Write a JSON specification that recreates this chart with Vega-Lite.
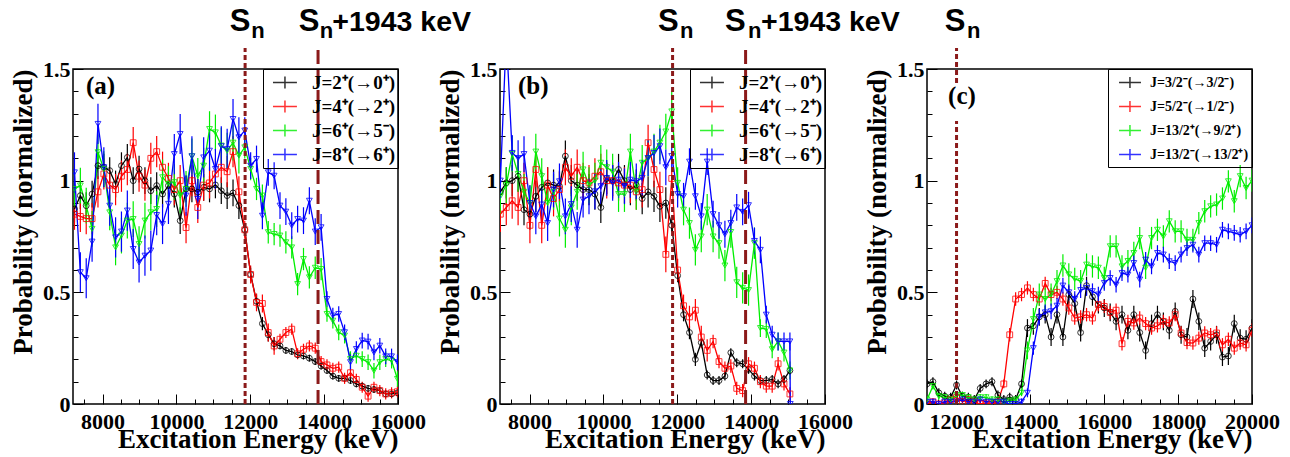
{
"$schema":"https://vega.github.io/schema/vega-lite/v6.json",
"padding":{"left":8,"top":5,"right":5,"bottom":3},
"background":"white",
"config":{"view":{"stroke":"#000","strokeWidth":1.5},"font":"Liberation Serif"},
"datasets":{
"labAB":[{"s":0,"J":"J=2⁺(→0⁺)\u00a0\u00a0\u00a0\u00a0\u00a0\u00a0\u00a0"},{"s":1,"J":"J=4⁺(→2⁺)\u00a0\u00a0\u00a0\u00a0\u00a0\u00a0\u00a0"},{"s":2,"J":"J=6⁺(→5⁻)\u00a0\u00a0\u00a0\u00a0\u00a0\u00a0\u00a0"},{"s":3,"J":"J=8⁺(→6⁺)\u00a0\u00a0\u00a0\u00a0\u00a0\u00a0\u00a0"}],
"labC":[{"s":0,"J":"J=3/2⁻(→3/2⁻)"},{"s":1,"J":"J=5/2⁻(→1/2⁻)"},{"s":2,"J":"J=13/2⁺(→9/2⁺)"},{"s":3,"J":"J=13/2⁻(→13/2⁺)"}],
"a":[
{"s":0,"E":7240,"P":0.873,"d":0.06},{"s":0,"E":7399,"P":0.933,"d":0.06},{"s":0,"E":7558,"P":0.888,"d":0.06},{"s":0,"E":7717,"P":0.94,"d":0.06},{"s":0,"E":7876,"P":1.067,"d":0.06},{"s":0,"E":8035,"P":1.06,"d":0.06},{"s":0,"E":8194,"P":1.045,"d":0.06},{"s":0,"E":8353,"P":0.985,"d":0.06},{"s":0,"E":8512,"P":1.067,"d":0.06},{"s":0,"E":8671,"P":1.104,"d":0.06},{"s":0,"E":8830,"P":1.0,"d":0.06},{"s":0,"E":8989,"P":1.052,"d":0.06},{"s":0,"E":9148,"P":1.0,"d":0.06},{"s":0,"E":9307,"P":0.955,"d":0.06},{"s":0,"E":9466,"P":0.978,"d":0.06},{"s":0,"E":9625,"P":0.94,"d":0.06},{"s":0,"E":9784,"P":0.978,"d":0.06},{"s":0,"E":9943,"P":0.94,"d":0.06},{"s":0,"E":10102,"P":0.821,"d":0.06},{"s":0,"E":10261,"P":0.963,"d":0.06},{"s":0,"E":10420,"P":0.963,"d":0.06},{"s":0,"E":10579,"P":0.948,"d":0.06},{"s":0,"E":10738,"P":0.97,"d":0.06},{"s":0,"E":10897,"P":0.963,"d":0.06},{"s":0,"E":11056,"P":0.981,"d":0.06},{"s":0,"E":11215,"P":0.955,"d":0.06},{"s":0,"E":11374,"P":0.933,"d":0.06},{"s":0,"E":11533,"P":0.945,"d":0.06},{"s":0,"E":11692,"P":0.888,"d":0.06},{"s":0,"E":11851,"P":0.78,"d":0.03},{"s":0,"E":12010,"P":0.58,"d":0.03},{"s":0,"E":12169,"P":0.46,"d":0.03},{"s":0,"E":12328,"P":0.36,"d":0.03},{"s":0,"E":12487,"P":0.31,"d":0.03},{"s":0,"E":12646,"P":0.27,"d":0.03},{"s":0,"E":12805,"P":0.26,"d":0.015},{"s":0,"E":12964,"P":0.24,"d":0.015},{"s":0,"E":13123,"P":0.235,"d":0.015},{"s":0,"E":13282,"P":0.22,"d":0.015},{"s":0,"E":13441,"P":0.215,"d":0.015},{"s":0,"E":13600,"P":0.205,"d":0.015},{"s":0,"E":13759,"P":0.19,"d":0.015},{"s":0,"E":13918,"P":0.17,"d":0.015},{"s":0,"E":14077,"P":0.15,"d":0.015},{"s":0,"E":14236,"P":0.125,"d":0.015},{"s":0,"E":14395,"P":0.115,"d":0.015},{"s":0,"E":14554,"P":0.115,"d":0.015},{"s":0,"E":14713,"P":0.105,"d":0.015},{"s":0,"E":14872,"P":0.09,"d":0.015},{"s":0,"E":15031,"P":0.08,"d":0.015},{"s":0,"E":15190,"P":0.07,"d":0.015},{"s":0,"E":15349,"P":0.065,"d":0.015},{"s":0,"E":15508,"P":0.06,"d":0.015},{"s":0,"E":15667,"P":0.045,"d":0.015},{"s":0,"E":15826,"P":0.045,"d":0.015},{"s":0,"E":15985,"P":0.05,"d":0.015},
{"s":1,"E":7240,"P":0.85,"d":0.07},{"s":1,"E":7399,"P":0.84,"d":0.07},{"s":1,"E":7558,"P":0.83,"d":0.07},{"s":1,"E":7717,"P":0.83,"d":0.07},{"s":1,"E":7876,"P":0.95,"d":0.07},{"s":1,"E":8035,"P":1.03,"d":0.07},{"s":1,"E":8194,"P":0.98,"d":0.07},{"s":1,"E":8353,"P":0.96,"d":0.07},{"s":1,"E":8512,"P":1.02,"d":0.07},{"s":1,"E":8671,"P":1.05,"d":0.07},{"s":1,"E":8830,"P":1.17,"d":0.07},{"s":1,"E":8989,"P":1.02,"d":0.07},{"s":1,"E":9148,"P":0.98,"d":0.07},{"s":1,"E":9307,"P":1.1,"d":0.07},{"s":1,"E":9466,"P":1.13,"d":0.07},{"s":1,"E":9625,"P":1.06,"d":0.07},{"s":1,"E":9784,"P":1.01,"d":0.07},{"s":1,"E":9943,"P":0.96,"d":0.07},{"s":1,"E":10102,"P":1.0,"d":0.07},{"s":1,"E":10261,"P":0.79,"d":0.07},{"s":1,"E":10420,"P":1.0,"d":0.07},{"s":1,"E":10579,"P":0.88,"d":0.07},{"s":1,"E":10738,"P":0.98,"d":0.07},{"s":1,"E":10897,"P":0.99,"d":0.07},{"s":1,"E":11056,"P":1.03,"d":0.07},{"s":1,"E":11215,"P":1.06,"d":0.07},{"s":1,"E":11374,"P":1.04,"d":0.07},{"s":1,"E":11533,"P":1.13,"d":0.07},{"s":1,"E":11692,"P":0.95,"d":0.07},{"s":1,"E":11851,"P":0.78,"d":0.04},{"s":1,"E":12010,"P":0.58,"d":0.04},{"s":1,"E":12169,"P":0.455,"d":0.04},{"s":1,"E":12328,"P":0.45,"d":0.04},{"s":1,"E":12487,"P":0.32,"d":0.04},{"s":1,"E":12646,"P":0.26,"d":0.04},{"s":1,"E":12805,"P":0.29,"d":0.025},{"s":1,"E":12964,"P":0.32,"d":0.025},{"s":1,"E":13123,"P":0.335,"d":0.025},{"s":1,"E":13282,"P":0.225,"d":0.025},{"s":1,"E":13441,"P":0.245,"d":0.025},{"s":1,"E":13600,"P":0.26,"d":0.025},{"s":1,"E":13759,"P":0.25,"d":0.025},{"s":1,"E":13918,"P":0.19,"d":0.025},{"s":1,"E":14077,"P":0.175,"d":0.025},{"s":1,"E":14236,"P":0.16,"d":0.025},{"s":1,"E":14395,"P":0.165,"d":0.025},{"s":1,"E":14554,"P":0.115,"d":0.025},{"s":1,"E":14713,"P":0.14,"d":0.025},{"s":1,"E":14872,"P":0.11,"d":0.025},{"s":1,"E":15031,"P":0.075,"d":0.025},{"s":1,"E":15190,"P":0.035,"d":0.025},{"s":1,"E":15349,"P":0.075,"d":0.025},{"s":1,"E":15508,"P":0.06,"d":0.025},{"s":1,"E":15667,"P":0.045,"d":0.025},{"s":1,"E":15826,"P":0.05,"d":0.025},{"s":1,"E":15985,"P":0.055,"d":0.025},
{"s":2,"E":7240,"P":0.963,"d":0.08},{"s":2,"E":7399,"P":0.978,"d":0.08},{"s":2,"E":7558,"P":0.888,"d":0.08},{"s":2,"E":7717,"P":0.784,"d":0.08},{"s":2,"E":7876,"P":1.127,"d":0.08},{"s":2,"E":8035,"P":1.052,"d":0.08},{"s":2,"E":8194,"P":0.858,"d":0.08},{"s":2,"E":8353,"P":0.701,"d":0.08},{"s":2,"E":8512,"P":0.754,"d":0.08},{"s":2,"E":8671,"P":0.821,"d":0.08},{"s":2,"E":8830,"P":0.828,"d":0.08},{"s":2,"E":8989,"P":0.716,"d":0.08},{"s":2,"E":9148,"P":0.821,"d":0.08},{"s":2,"E":9307,"P":0.858,"d":0.08},{"s":2,"E":9466,"P":0.873,"d":0.08},{"s":2,"E":9625,"P":1.015,"d":0.08},{"s":2,"E":9784,"P":0.985,"d":0.08},{"s":2,"E":9943,"P":0.993,"d":0.08},{"s":2,"E":10102,"P":0.933,"d":0.08},{"s":2,"E":10261,"P":0.963,"d":0.08},{"s":2,"E":10420,"P":1.109,"d":0.08},{"s":2,"E":10579,"P":1.022,"d":0.08},{"s":2,"E":10738,"P":1.067,"d":0.08},{"s":2,"E":10897,"P":1.231,"d":0.08},{"s":2,"E":11056,"P":1.216,"d":0.08},{"s":2,"E":11215,"P":1.157,"d":0.08},{"s":2,"E":11374,"P":1.134,"d":0.08},{"s":2,"E":11533,"P":1.17,"d":0.08},{"s":2,"E":11692,"P":1.112,"d":0.08},{"s":2,"E":11851,"P":1.149,"d":0.05},{"s":2,"E":12010,"P":1.052,"d":0.05},{"s":2,"E":12169,"P":0.963,"d":0.05},{"s":2,"E":12328,"P":0.933,"d":0.05},{"s":2,"E":12487,"P":0.769,"d":0.05},{"s":2,"E":12646,"P":0.761,"d":0.05},{"s":2,"E":12805,"P":0.754,"d":0.05},{"s":2,"E":12964,"P":0.724,"d":0.05},{"s":2,"E":13123,"P":0.701,"d":0.05},{"s":2,"E":13282,"P":0.537,"d":0.05},{"s":2,"E":13441,"P":0.649,"d":0.05},{"s":2,"E":13600,"P":0.567,"d":0.05},{"s":2,"E":13759,"P":0.61,"d":0.05},{"s":2,"E":13918,"P":0.604,"d":0.05},{"s":2,"E":14077,"P":0.403,"d":0.035},{"s":2,"E":14236,"P":0.373,"d":0.035},{"s":2,"E":14395,"P":0.321,"d":0.035},{"s":2,"E":14554,"P":0.306,"d":0.035},{"s":2,"E":14713,"P":0.201,"d":0.035},{"s":2,"E":14872,"P":0.216,"d":0.035},{"s":2,"E":15031,"P":0.201,"d":0.035},{"s":2,"E":15190,"P":0.187,"d":0.035},{"s":2,"E":15349,"P":0.149,"d":0.035},{"s":2,"E":15508,"P":0.187,"d":0.035},{"s":2,"E":15667,"P":0.201,"d":0.035},{"s":2,"E":15826,"P":0.194,"d":0.035},{"s":2,"E":15985,"P":0.112,"d":0.035},
{"s":3,"E":7240,"P":1.037,"d":0.09},{"s":3,"E":7399,"P":0.59,"d":0.09},{"s":3,"E":7558,"P":0.563,"d":0.09},{"s":3,"E":7717,"P":0.727,"d":0.09},{"s":3,"E":7876,"P":1.254,"d":0.09},{"s":3,"E":8035,"P":1.06,"d":0.09},{"s":3,"E":8194,"P":0.888,"d":0.09},{"s":3,"E":8353,"P":0.746,"d":0.09},{"s":3,"E":8512,"P":0.772,"d":0.09},{"s":3,"E":8671,"P":0.866,"d":0.09},{"s":3,"E":8830,"P":0.694,"d":0.09},{"s":3,"E":8989,"P":0.634,"d":0.09},{"s":3,"E":9148,"P":0.664,"d":0.09},{"s":3,"E":9307,"P":0.687,"d":0.09},{"s":3,"E":9466,"P":0.846,"d":0.09},{"s":3,"E":9625,"P":0.806,"d":0.09},{"s":3,"E":9784,"P":0.896,"d":0.09},{"s":3,"E":9943,"P":1.119,"d":0.09},{"s":3,"E":10102,"P":1.209,"d":0.09},{"s":3,"E":10261,"P":0.933,"d":0.09},{"s":3,"E":10420,"P":1.109,"d":0.09},{"s":3,"E":10579,"P":0.918,"d":0.09},{"s":3,"E":10738,"P":1.104,"d":0.09},{"s":3,"E":10897,"P":1.134,"d":0.09},{"s":3,"E":11056,"P":1.052,"d":0.09},{"s":3,"E":11215,"P":1.154,"d":0.09},{"s":3,"E":11374,"P":1.142,"d":0.09},{"s":3,"E":11533,"P":1.276,"d":0.09},{"s":3,"E":11692,"P":1.194,"d":0.09},{"s":3,"E":11851,"P":1.224,"d":0.06},{"s":3,"E":12010,"P":1.067,"d":0.06},{"s":3,"E":12169,"P":1.097,"d":0.06},{"s":3,"E":12328,"P":0.843,"d":0.06},{"s":3,"E":12487,"P":1.037,"d":0.06},{"s":3,"E":12646,"P":1.022,"d":0.06},{"s":3,"E":12805,"P":0.888,"d":0.06},{"s":3,"E":12964,"P":0.861,"d":0.06},{"s":3,"E":13123,"P":0.799,"d":0.06},{"s":3,"E":13282,"P":0.828,"d":0.06},{"s":3,"E":13441,"P":0.821,"d":0.06},{"s":3,"E":13600,"P":0.91,"d":0.06},{"s":3,"E":13759,"P":0.772,"d":0.06},{"s":3,"E":13918,"P":0.791,"d":0.06},{"s":3,"E":14077,"P":0.47,"d":0.035},{"s":3,"E":14236,"P":0.396,"d":0.035},{"s":3,"E":14395,"P":0.403,"d":0.035},{"s":3,"E":14554,"P":0.321,"d":0.035},{"s":3,"E":14713,"P":0.187,"d":0.035},{"s":3,"E":14872,"P":0.246,"d":0.035},{"s":3,"E":15031,"P":0.284,"d":0.035},{"s":3,"E":15190,"P":0.279,"d":0.035},{"s":3,"E":15349,"P":0.231,"d":0.035},{"s":3,"E":15508,"P":0.261,"d":0.035},{"s":3,"E":15667,"P":0.213,"d":0.035},{"s":3,"E":15826,"P":0.213,"d":0.035},{"s":3,"E":15985,"P":0.187,"d":0.035}
],
"b":[
{"s":0,"E":7210,"P":0.95,"d":0.07},{"s":0,"E":7370,"P":0.99,"d":0.07},{"s":0,"E":7530,"P":1.0,"d":0.07},{"s":0,"E":7690,"P":1.02,"d":0.07},{"s":0,"E":7850,"P":0.87,"d":0.07},{"s":0,"E":8010,"P":0.85,"d":0.07},{"s":0,"E":8170,"P":0.93,"d":0.07},{"s":0,"E":8330,"P":0.97,"d":0.07},{"s":0,"E":8490,"P":0.99,"d":0.07},{"s":0,"E":8650,"P":0.98,"d":0.07},{"s":0,"E":8810,"P":0.975,"d":0.07},{"s":0,"E":8970,"P":1.11,"d":0.07},{"s":0,"E":9130,"P":1.0,"d":0.07},{"s":0,"E":9290,"P":0.98,"d":0.07},{"s":0,"E":9450,"P":0.96,"d":0.07},{"s":0,"E":9610,"P":0.96,"d":0.07},{"s":0,"E":9770,"P":0.94,"d":0.07},{"s":0,"E":9930,"P":0.88,"d":0.07},{"s":0,"E":10090,"P":1.01,"d":0.07},{"s":0,"E":10250,"P":1.0,"d":0.07},{"s":0,"E":10410,"P":1.05,"d":0.07},{"s":0,"E":10570,"P":1.0,"d":0.07},{"s":0,"E":10730,"P":0.96,"d":0.07},{"s":0,"E":10890,"P":0.98,"d":0.07},{"s":0,"E":11050,"P":0.92,"d":0.07},{"s":0,"E":11210,"P":0.95,"d":0.07},{"s":0,"E":11370,"P":0.93,"d":0.07},{"s":0,"E":11530,"P":0.885,"d":0.07},{"s":0,"E":11690,"P":0.9,"d":0.07},{"s":0,"E":11850,"P":0.8,"d":0.03},{"s":0,"E":12010,"P":0.575,"d":0.03},{"s":0,"E":12170,"P":0.4,"d":0.03},{"s":0,"E":12330,"P":0.32,"d":0.03},{"s":0,"E":12490,"P":0.2,"d":0.03},{"s":0,"E":12650,"P":0.275,"d":0.02},{"s":0,"E":12810,"P":0.13,"d":0.02},{"s":0,"E":12970,"P":0.105,"d":0.02},{"s":0,"E":13130,"P":0.105,"d":0.02},{"s":0,"E":13290,"P":0.125,"d":0.02},{"s":0,"E":13450,"P":0.23,"d":0.02},{"s":0,"E":13610,"P":0.185,"d":0.02},{"s":0,"E":13770,"P":0.18,"d":0.02},{"s":0,"E":13930,"P":0.155,"d":0.02},{"s":0,"E":14090,"P":0.125,"d":0.02},{"s":0,"E":14250,"P":0.105,"d":0.02},{"s":0,"E":14410,"P":0.105,"d":0.02},{"s":0,"E":14570,"P":0.11,"d":0.02},{"s":0,"E":14730,"P":0.09,"d":0.02},{"s":0,"E":14890,"P":0.11,"d":0.02},{"s":0,"E":15050,"P":0.15,"d":0.02},
{"s":1,"E":7210,"P":0.85,"d":0.08},{"s":1,"E":7370,"P":0.88,"d":0.08},{"s":1,"E":7530,"P":0.91,"d":0.08},{"s":1,"E":7690,"P":0.88,"d":0.08},{"s":1,"E":7850,"P":1.0,"d":0.08},{"s":1,"E":8010,"P":0.8,"d":0.08},{"s":1,"E":8170,"P":1.05,"d":0.08},{"s":1,"E":8330,"P":0.8,"d":0.08},{"s":1,"E":8490,"P":0.98,"d":0.08},{"s":1,"E":8650,"P":0.92,"d":0.08},{"s":1,"E":8810,"P":0.96,"d":0.08},{"s":1,"E":8970,"P":1.06,"d":0.08},{"s":1,"E":9130,"P":1.02,"d":0.08},{"s":1,"E":9290,"P":1.06,"d":0.08},{"s":1,"E":9450,"P":1.0,"d":0.08},{"s":1,"E":9610,"P":0.99,"d":0.08},{"s":1,"E":9770,"P":1.02,"d":0.08},{"s":1,"E":9930,"P":1.04,"d":0.08},{"s":1,"E":10090,"P":1.0,"d":0.08},{"s":1,"E":10250,"P":1.0,"d":0.08},{"s":1,"E":10410,"P":0.99,"d":0.08},{"s":1,"E":10570,"P":0.98,"d":0.08},{"s":1,"E":10730,"P":0.98,"d":0.08},{"s":1,"E":10890,"P":0.95,"d":0.08},{"s":1,"E":11050,"P":0.96,"d":0.08},{"s":1,"E":11210,"P":1.17,"d":0.08},{"s":1,"E":11370,"P":1.05,"d":0.08},{"s":1,"E":11530,"P":0.96,"d":0.08},{"s":1,"E":11690,"P":0.67,"d":0.08},{"s":1,"E":11850,"P":1.01,"d":0.05},{"s":1,"E":12010,"P":0.6,"d":0.05},{"s":1,"E":12170,"P":0.44,"d":0.05},{"s":1,"E":12330,"P":0.39,"d":0.05},{"s":1,"E":12490,"P":0.42,"d":0.05},{"s":1,"E":12650,"P":0.3,"d":0.05},{"s":1,"E":12810,"P":0.24,"d":0.05},{"s":1,"E":12970,"P":0.28,"d":0.03},{"s":1,"E":13130,"P":0.19,"d":0.03},{"s":1,"E":13290,"P":0.16,"d":0.03},{"s":1,"E":13450,"P":0.17,"d":0.03},{"s":1,"E":13610,"P":0.07,"d":0.03},{"s":1,"E":13770,"P":0.06,"d":0.03},{"s":1,"E":13930,"P":0.18,"d":0.03},{"s":1,"E":14090,"P":0.16,"d":0.03},{"s":1,"E":14250,"P":0.1,"d":0.03},{"s":1,"E":14410,"P":0.08,"d":0.03},{"s":1,"E":14570,"P":0.08,"d":0.03},{"s":1,"E":14730,"P":0.18,"d":0.03},{"s":1,"E":14890,"P":0.09,"d":0.03},{"s":1,"E":15050,"P":0.045,"d":0.03},
{"s":2,"E":7210,"P":0.93,"d":0.08},{"s":2,"E":7370,"P":0.98,"d":0.08},{"s":2,"E":7530,"P":1.12,"d":0.08},{"s":2,"E":7690,"P":1.03,"d":0.08},{"s":2,"E":7850,"P":0.95,"d":0.08},{"s":2,"E":8010,"P":0.9,"d":0.08},{"s":2,"E":8170,"P":1.13,"d":0.08},{"s":2,"E":8330,"P":1.02,"d":0.08},{"s":2,"E":8490,"P":0.9,"d":0.08},{"s":2,"E":8650,"P":0.95,"d":0.08},{"s":2,"E":8810,"P":0.83,"d":0.08},{"s":2,"E":8970,"P":0.78,"d":0.08},{"s":2,"E":9130,"P":0.88,"d":0.08},{"s":2,"E":9290,"P":0.95,"d":0.08},{"s":2,"E":9450,"P":1.05,"d":0.08},{"s":2,"E":9610,"P":0.98,"d":0.08},{"s":2,"E":9770,"P":1.0,"d":0.08},{"s":2,"E":9930,"P":1.08,"d":0.08},{"s":2,"E":10090,"P":1.06,"d":0.08},{"s":2,"E":10250,"P":1.04,"d":0.08},{"s":2,"E":10410,"P":0.94,"d":0.08},{"s":2,"E":10570,"P":0.94,"d":0.08},{"s":2,"E":10730,"P":1.13,"d":0.08},{"s":2,"E":10890,"P":0.95,"d":0.08},{"s":2,"E":11050,"P":1.08,"d":0.08},{"s":2,"E":11210,"P":1.1,"d":0.08},{"s":2,"E":11370,"P":1.13,"d":0.08},{"s":2,"E":11530,"P":1.17,"d":0.08},{"s":2,"E":11690,"P":1.22,"d":0.08},{"s":2,"E":11850,"P":1.31,"d":0.09},{"s":2,"E":12010,"P":0.99,"d":0.07},{"s":2,"E":12170,"P":0.87,"d":0.07},{"s":2,"E":12330,"P":0.81,"d":0.07},{"s":2,"E":12490,"P":0.69,"d":0.07},{"s":2,"E":12650,"P":0.75,"d":0.07},{"s":2,"E":12810,"P":0.87,"d":0.07},{"s":2,"E":12970,"P":0.75,"d":0.07},{"s":2,"E":13130,"P":0.72,"d":0.07},{"s":2,"E":13290,"P":0.62,"d":0.07},{"s":2,"E":13450,"P":0.77,"d":0.07},{"s":2,"E":13610,"P":0.545,"d":0.07},{"s":2,"E":13770,"P":0.52,"d":0.07},{"s":2,"E":13930,"P":0.51,"d":0.07},{"s":2,"E":14090,"P":0.72,"d":0.07},{"s":2,"E":14250,"P":0.34,"d":0.04},{"s":2,"E":14410,"P":0.335,"d":0.04},{"s":2,"E":14570,"P":0.245,"d":0.04},{"s":2,"E":14730,"P":0.28,"d":0.04},{"s":2,"E":14890,"P":0.23,"d":0.04},{"s":2,"E":15050,"P":0.15,"d":0.04},
{"s":3,"E":7210,"P":1.0,"d":0.08},{"s":3,"E":7370,"P":1.65,"d":0.08},{"s":3,"E":7530,"P":1.124,"d":0.08},{"s":3,"E":7690,"P":1.101,"d":0.08},{"s":3,"E":7850,"P":1.119,"d":0.08},{"s":3,"E":8010,"P":0.9,"d":0.08},{"s":3,"E":8170,"P":0.84,"d":0.08},{"s":3,"E":8330,"P":0.893,"d":0.08},{"s":3,"E":8490,"P":0.81,"d":0.08},{"s":3,"E":8650,"P":0.96,"d":0.08},{"s":3,"E":8810,"P":0.997,"d":0.08},{"s":3,"E":8970,"P":0.84,"d":0.08},{"s":3,"E":9130,"P":0.895,"d":0.08},{"s":3,"E":9290,"P":0.78,"d":0.08},{"s":3,"E":9450,"P":0.915,"d":0.08},{"s":3,"E":9610,"P":0.93,"d":0.08},{"s":3,"E":9770,"P":0.952,"d":0.08},{"s":3,"E":9930,"P":0.975,"d":0.08},{"s":3,"E":10090,"P":1.012,"d":0.08},{"s":3,"E":10250,"P":0.99,"d":0.08},{"s":3,"E":10410,"P":1.004,"d":0.08},{"s":3,"E":10570,"P":0.975,"d":0.08},{"s":3,"E":10730,"P":1.004,"d":0.08},{"s":3,"E":10890,"P":0.997,"d":0.08},{"s":3,"E":11050,"P":1.012,"d":0.08},{"s":3,"E":11210,"P":1.101,"d":0.08},{"s":3,"E":11370,"P":1.124,"d":0.08},{"s":3,"E":11530,"P":1.154,"d":0.08},{"s":3,"E":11690,"P":1.06,"d":0.08},{"s":3,"E":11850,"P":1.11,"d":0.06},{"s":3,"E":12010,"P":0.94,"d":0.06},{"s":3,"E":12170,"P":0.93,"d":0.06},{"s":3,"E":12330,"P":1.085,"d":0.06},{"s":3,"E":12490,"P":0.93,"d":0.06},{"s":3,"E":12650,"P":0.84,"d":0.06},{"s":3,"E":12810,"P":1.085,"d":0.06},{"s":3,"E":12970,"P":0.85,"d":0.06},{"s":3,"E":13130,"P":0.8,"d":0.06},{"s":3,"E":13290,"P":0.76,"d":0.06},{"s":3,"E":13450,"P":0.81,"d":0.06},{"s":3,"E":13610,"P":0.88,"d":0.06},{"s":3,"E":13770,"P":0.86,"d":0.06},{"s":3,"E":13930,"P":0.89,"d":0.06},{"s":3,"E":14090,"P":0.73,"d":0.06},{"s":3,"E":14250,"P":0.69,"d":0.06},{"s":3,"E":14410,"P":0.4,"d":0.04},{"s":3,"E":14570,"P":0.31,"d":0.04},{"s":3,"E":14730,"P":0.28,"d":0.04},{"s":3,"E":14890,"P":0.28,"d":0.04},{"s":3,"E":15050,"P":0.28,"d":0.04},{"s":3,"E":15060,"P":0,"d":0}
],
"c":[
{"s":0,"E":11200,"P":0.09,"d":0.02},{"s":0,"E":11360,"P":0.1,"d":0.02},{"s":0,"E":11520,"P":0.05,"d":0.02},{"s":0,"E":11680,"P":0.035,"d":0.02},{"s":0,"E":11840,"P":0.03,"d":0.02},{"s":0,"E":12000,"P":0.085,"d":0.02},{"s":0,"E":12160,"P":0.035,"d":0.02},{"s":0,"E":12320,"P":0.03,"d":0.02},{"s":0,"E":12480,"P":0.02,"d":0.02},{"s":0,"E":12640,"P":0.07,"d":0.02},{"s":0,"E":12800,"P":0.09,"d":0.02},{"s":0,"E":12960,"P":0.1,"d":0.02},{"s":0,"E":13120,"P":0.04,"d":0.02},{"s":0,"E":13280,"P":0.02,"d":0.02},{"s":0,"E":13440,"P":0.03,"d":0.02},{"s":0,"E":13600,"P":0.02,"d":0.02},{"s":0,"E":13760,"P":0.09,"d":0.02},{"s":0,"E":13920,"P":0.34,"d":0.04},{"s":0,"E":14080,"P":0.35,"d":0.04},{"s":0,"E":14240,"P":0.39,"d":0.04},{"s":0,"E":14400,"P":0.4,"d":0.04},{"s":0,"E":14560,"P":0.3,"d":0.04},{"s":0,"E":14720,"P":0.4,"d":0.04},{"s":0,"E":14880,"P":0.3,"d":0.04},{"s":0,"E":15040,"P":0.49,"d":0.04},{"s":0,"E":15200,"P":0.45,"d":0.04},{"s":0,"E":15360,"P":0.32,"d":0.04},{"s":0,"E":15520,"P":0.53,"d":0.04},{"s":0,"E":15680,"P":0.48,"d":0.04},{"s":0,"E":15840,"P":0.445,"d":0.04},{"s":0,"E":16000,"P":0.43,"d":0.04},{"s":0,"E":16160,"P":0.41,"d":0.04},{"s":0,"E":16320,"P":0.37,"d":0.04},{"s":0,"E":16480,"P":0.4,"d":0.04},{"s":0,"E":16640,"P":0.33,"d":0.04},{"s":0,"E":16800,"P":0.4,"d":0.04},{"s":0,"E":16960,"P":0.32,"d":0.04},{"s":0,"E":17120,"P":0.24,"d":0.04},{"s":0,"E":17280,"P":0.36,"d":0.04},{"s":0,"E":17440,"P":0.4,"d":0.04},{"s":0,"E":17600,"P":0.37,"d":0.04},{"s":0,"E":17760,"P":0.33,"d":0.04},{"s":0,"E":17920,"P":0.415,"d":0.04},{"s":0,"E":18080,"P":0.31,"d":0.04},{"s":0,"E":18240,"P":0.3,"d":0.04},{"s":0,"E":18400,"P":0.47,"d":0.04},{"s":0,"E":18560,"P":0.37,"d":0.04},{"s":0,"E":18720,"P":0.25,"d":0.04},{"s":0,"E":18880,"P":0.28,"d":0.04},{"s":0,"E":19040,"P":0.31,"d":0.04},{"s":0,"E":19200,"P":0.21,"d":0.04},{"s":0,"E":19360,"P":0.215,"d":0.04},{"s":0,"E":19520,"P":0.36,"d":0.04},{"s":0,"E":19680,"P":0.295,"d":0.04},{"s":0,"E":19840,"P":0.29,"d":0.04},{"s":0,"E":20000,"P":0.34,"d":0.04},
{"s":1,"E":11200,"P":0.0,"d":0.015},{"s":1,"E":11360,"P":0.01,"d":0.015},{"s":1,"E":11520,"P":0.0,"d":0.015},{"s":1,"E":11680,"P":0.005,"d":0.015},{"s":1,"E":11840,"P":0.02,"d":0.015},{"s":1,"E":12000,"P":0.03,"d":0.015},{"s":1,"E":12160,"P":0.01,"d":0.015},{"s":1,"E":12320,"P":0.02,"d":0.015},{"s":1,"E":12480,"P":0.01,"d":0.015},{"s":1,"E":12640,"P":0.0,"d":0.015},{"s":1,"E":12800,"P":0.005,"d":0.015},{"s":1,"E":12960,"P":0.0,"d":0.015},{"s":1,"E":13120,"P":0.01,"d":0.015},{"s":1,"E":13280,"P":0.09,"d":0.02},{"s":1,"E":13440,"P":0.31,"d":0.03},{"s":1,"E":13600,"P":0.47,"d":0.03},{"s":1,"E":13760,"P":0.49,"d":0.03},{"s":1,"E":13920,"P":0.52,"d":0.03},{"s":1,"E":14080,"P":0.49,"d":0.03},{"s":1,"E":14240,"P":0.47,"d":0.03},{"s":1,"E":14400,"P":0.54,"d":0.03},{"s":1,"E":14560,"P":0.49,"d":0.03},{"s":1,"E":14720,"P":0.5,"d":0.03},{"s":1,"E":14880,"P":0.47,"d":0.03},{"s":1,"E":15040,"P":0.43,"d":0.03},{"s":1,"E":15200,"P":0.385,"d":0.03},{"s":1,"E":15360,"P":0.39,"d":0.03},{"s":1,"E":15520,"P":0.4,"d":0.03},{"s":1,"E":15680,"P":0.385,"d":0.03},{"s":1,"E":15840,"P":0.445,"d":0.03},{"s":1,"E":16000,"P":0.437,"d":0.03},{"s":1,"E":16160,"P":0.41,"d":0.03},{"s":1,"E":16320,"P":0.42,"d":0.03},{"s":1,"E":16480,"P":0.27,"d":0.03},{"s":1,"E":16640,"P":0.37,"d":0.03},{"s":1,"E":16800,"P":0.363,"d":0.03},{"s":1,"E":16960,"P":0.385,"d":0.03},{"s":1,"E":17120,"P":0.36,"d":0.03},{"s":1,"E":17280,"P":0.34,"d":0.03},{"s":1,"E":17440,"P":0.35,"d":0.03},{"s":1,"E":17600,"P":0.37,"d":0.03},{"s":1,"E":17760,"P":0.363,"d":0.03},{"s":1,"E":17920,"P":0.4,"d":0.03},{"s":1,"E":18080,"P":0.318,"d":0.03},{"s":1,"E":18240,"P":0.275,"d":0.03},{"s":1,"E":18400,"P":0.273,"d":0.03},{"s":1,"E":18560,"P":0.295,"d":0.03},{"s":1,"E":18720,"P":0.318,"d":0.03},{"s":1,"E":18880,"P":0.31,"d":0.03},{"s":1,"E":19040,"P":0.318,"d":0.03},{"s":1,"E":19200,"P":0.265,"d":0.03},{"s":1,"E":19360,"P":0.29,"d":0.03},{"s":1,"E":19520,"P":0.25,"d":0.03},{"s":1,"E":19680,"P":0.273,"d":0.03},{"s":1,"E":19840,"P":0.265,"d":0.03},{"s":1,"E":20000,"P":0.33,"d":0.03},
{"s":2,"E":11200,"P":0.02,"d":0.015},{"s":2,"E":11360,"P":0.08,"d":0.015},{"s":2,"E":11520,"P":0.035,"d":0.015},{"s":2,"E":11680,"P":0.03,"d":0.015},{"s":2,"E":11840,"P":0.02,"d":0.015},{"s":2,"E":12000,"P":0.04,"d":0.015},{"s":2,"E":12160,"P":0.04,"d":0.015},{"s":2,"E":12320,"P":0.03,"d":0.015},{"s":2,"E":12480,"P":0.02,"d":0.015},{"s":2,"E":12640,"P":0.03,"d":0.015},{"s":2,"E":12800,"P":0.03,"d":0.015},{"s":2,"E":12960,"P":0.02,"d":0.015},{"s":2,"E":13120,"P":0.02,"d":0.015},{"s":2,"E":13280,"P":0.01,"d":0.015},{"s":2,"E":13440,"P":0.015,"d":0.015},{"s":2,"E":13600,"P":0.02,"d":0.015},{"s":2,"E":13760,"P":0.05,"d":0.015},{"s":2,"E":13920,"P":0.24,"d":0.04},{"s":2,"E":14080,"P":0.38,"d":0.05},{"s":2,"E":14240,"P":0.49,"d":0.05},{"s":2,"E":14400,"P":0.47,"d":0.05},{"s":2,"E":14560,"P":0.49,"d":0.05},{"s":2,"E":14720,"P":0.55,"d":0.05},{"s":2,"E":14880,"P":0.62,"d":0.05},{"s":2,"E":15040,"P":0.58,"d":0.05},{"s":2,"E":15200,"P":0.56,"d":0.05},{"s":2,"E":15360,"P":0.55,"d":0.05},{"s":2,"E":15520,"P":0.624,"d":0.05},{"s":2,"E":15680,"P":0.616,"d":0.05},{"s":2,"E":15840,"P":0.61,"d":0.05},{"s":2,"E":16000,"P":0.564,"d":0.05},{"s":2,"E":16160,"P":0.706,"d":0.05},{"s":2,"E":16320,"P":0.706,"d":0.05},{"s":2,"E":16480,"P":0.616,"d":0.05},{"s":2,"E":16640,"P":0.64,"d":0.05},{"s":2,"E":16800,"P":0.676,"d":0.05},{"s":2,"E":16960,"P":0.743,"d":0.05},{"s":2,"E":17120,"P":0.61,"d":0.05},{"s":2,"E":17280,"P":0.743,"d":0.05},{"s":2,"E":17440,"P":0.78,"d":0.05},{"s":2,"E":17600,"P":0.75,"d":0.05},{"s":2,"E":17760,"P":0.818,"d":0.05},{"s":2,"E":17920,"P":0.773,"d":0.05},{"s":2,"E":18080,"P":0.773,"d":0.05},{"s":2,"E":18240,"P":0.735,"d":0.05},{"s":2,"E":18400,"P":0.735,"d":0.05},{"s":2,"E":18560,"P":0.81,"d":0.05},{"s":2,"E":18720,"P":0.863,"d":0.05},{"s":2,"E":18880,"P":0.885,"d":0.05},{"s":2,"E":19040,"P":0.893,"d":0.05},{"s":2,"E":19200,"P":0.92,"d":0.05},{"s":2,"E":19360,"P":0.997,"d":0.05},{"s":2,"E":19520,"P":0.908,"d":0.05},{"s":2,"E":19680,"P":1.02,"d":0.05},{"s":2,"E":19840,"P":0.967,"d":0.05},{"s":2,"E":20000,"P":1.0,"d":0.05},
{"s":3,"E":11200,"P":0.01,"d":0.015},{"s":3,"E":11360,"P":0.01,"d":0.015},{"s":3,"E":11520,"P":0.0,"d":0.015},{"s":3,"E":11680,"P":0.01,"d":0.015},{"s":3,"E":11840,"P":0.01,"d":0.015},{"s":3,"E":12000,"P":0.01,"d":0.015},{"s":3,"E":12160,"P":0.02,"d":0.015},{"s":3,"E":12320,"P":0.01,"d":0.015},{"s":3,"E":12480,"P":0.01,"d":0.015},{"s":3,"E":12640,"P":0.02,"d":0.015},{"s":3,"E":12800,"P":0.01,"d":0.015},{"s":3,"E":12960,"P":0.01,"d":0.015},{"s":3,"E":13120,"P":0.01,"d":0.015},{"s":3,"E":13280,"P":0.01,"d":0.015},{"s":3,"E":13440,"P":0.0,"d":0.015},{"s":3,"E":13600,"P":0.0,"d":0.015},{"s":3,"E":13760,"P":0.01,"d":0.015},{"s":3,"E":13920,"P":0.05,"d":0.02},{"s":3,"E":14080,"P":0.25,"d":0.03},{"s":3,"E":14240,"P":0.39,"d":0.035},{"s":3,"E":14400,"P":0.41,"d":0.035},{"s":3,"E":14560,"P":0.415,"d":0.035},{"s":3,"E":14720,"P":0.44,"d":0.035},{"s":3,"E":14880,"P":0.53,"d":0.035},{"s":3,"E":15040,"P":0.5,"d":0.035},{"s":3,"E":15200,"P":0.47,"d":0.035},{"s":3,"E":15360,"P":0.51,"d":0.035},{"s":3,"E":15520,"P":0.519,"d":0.035},{"s":3,"E":15680,"P":0.505,"d":0.035},{"s":3,"E":15840,"P":0.49,"d":0.035},{"s":3,"E":16000,"P":0.542,"d":0.035},{"s":3,"E":16160,"P":0.564,"d":0.035},{"s":3,"E":16320,"P":0.534,"d":0.035},{"s":3,"E":16480,"P":0.586,"d":0.035},{"s":3,"E":16640,"P":0.579,"d":0.035},{"s":3,"E":16800,"P":0.631,"d":0.035},{"s":3,"E":16960,"P":0.557,"d":0.035},{"s":3,"E":17120,"P":0.646,"d":0.035},{"s":3,"E":17280,"P":0.616,"d":0.035},{"s":3,"E":17440,"P":0.676,"d":0.035},{"s":3,"E":17600,"P":0.669,"d":0.035},{"s":3,"E":17760,"P":0.639,"d":0.035},{"s":3,"E":17920,"P":0.631,"d":0.035},{"s":3,"E":18080,"P":0.669,"d":0.035},{"s":3,"E":18240,"P":0.698,"d":0.035},{"s":3,"E":18400,"P":0.713,"d":0.035},{"s":3,"E":18560,"P":0.669,"d":0.035},{"s":3,"E":18720,"P":0.72,"d":0.035},{"s":3,"E":18880,"P":0.72,"d":0.035},{"s":3,"E":19040,"P":0.713,"d":0.035},{"s":3,"E":19200,"P":0.78,"d":0.035},{"s":3,"E":19360,"P":0.773,"d":0.035},{"s":3,"E":19520,"P":0.766,"d":0.035},{"s":3,"E":19680,"P":0.758,"d":0.035},{"s":3,"E":19840,"P":0.773,"d":0.035},{"s":3,"E":20000,"P":0.8,"d":0.035}
]
},
"hconcat":[
{
"width":325,"height":335,
"data":{"name":"a"},
"transform":[{"lookup":"s","from":{"data":{"name":"labAB"},"key":"s","fields":["J"]}}],
"resolve":{"axis":{"x":"independent","y":"independent"}},
"layer":[
{"mark":{"type":"errorbar","clip":true,"thickness":1.2},
 "encoding":{"x":{"field":"E","type":"quantitative","axis":null},"y":{"field":"P","type":"quantitative","axis":null},"yError":{"field":"d"},"color":{"field":"J","type":"nominal"}}},
{"mark":{"type":"line","clip":true,"strokeWidth":1.3},
 "encoding":{
  "x":{"field":"E","type":"quantitative","scale":{"domain":[7200,16000],"nice":false,"zero":false},
   "axis":{"orient":"bottom","title":"Excitation Energy (keV)","titleFont":"Liberation Serif","titleFontWeight":"bold","titleFontSize":27,"titleColor":"#000","titleAnchor":"end","titlePadding":-6,"values":[8000,10000,12000,14000,16000],"format":"d","labelFont":"Liberation Serif","labelFontWeight":"bold","labelFontSize":22,"labelColor":"#000","labelPadding":17,"labelFlush":false,"labelOverlap":false,"labelBound":false,"domain":false,"grid":false,"tickColor":"#000","tickWidth":1,"tickSize":-10}},
  "y":{"field":"P","type":"quantitative","scale":{"domain":[0,1.5],"nice":false,"zero":false},
   "axis":{"orient":"left","title":"Probability (normalized)","titleFont":"Liberation Serif","titleFontWeight":"bold","titleFontSize":27,"titleColor":"#000","titleAnchor":"end","titlePadding":5,"values":[0,0.5,1,1.5],"format":"~g","labelFont":"Liberation Serif","labelFontWeight":"bold","labelFontSize":22,"labelColor":"#000","labelPadding":13,"labelOverlap":false,"labelBound":false,"labelFlush":false,"domain":false,"grid":false,"tickColor":"#000","tickWidth":1,"tickSize":-10}},
  "color":{"field":"J","type":"nominal","scale":{"domain":["J=2⁺(→0⁺)\u00a0\u00a0\u00a0\u00a0\u00a0\u00a0\u00a0","J=4⁺(→2⁺)\u00a0\u00a0\u00a0\u00a0\u00a0\u00a0\u00a0","J=6⁺(→5⁻)\u00a0\u00a0\u00a0\u00a0\u00a0\u00a0\u00a0","J=8⁺(→6⁺)\u00a0\u00a0\u00a0\u00a0\u00a0\u00a0\u00a0"],"range":["#000000","#ff0000","#00ee00","#0000ff"]},
   "legend":{"title":null,"orient":"top-right","offset":0,"padding":3,"rowPadding":3,"strokeColor":"#000","symbolType":"M-0.37,0H2.15M0.89,-0.63V0.63","symbolSize":361,"symbolStrokeWidth":1.5,"labelFont":"Liberation Serif","labelFontWeight":"bold","labelFontSize":19,"labelColor":"#000","labelOffset":25,"labelLimit":0,"cornerRadius":0}}}},
{"mark":{"type":"point","clip":true,"filled":false,"size":34,"strokeWidth":1,"opacity":0.8},
 "encoding":{
  "x":{"field":"E","type":"quantitative","axis":{"orient":"bottom","title":null,"values":[7500,8500,9000,9500,10500,11000,11500,12500,13000,13500,14500,15000,15500],"labels":false,"domain":false,"grid":false,"tickColor":"#000","tickWidth":1,"tickSize":-5}},
  "y":{"field":"P","type":"quantitative","axis":{"orient":"left","title":null,"values":[0.1,0.2,0.3,0.4,0.6,0.7,0.8,0.9,1.1,1.2,1.3,1.4],"labels":false,"domain":false,"grid":false,"tickColor":"#000","tickWidth":1,"tickSize":-5}},
  "color":{"field":"J","type":"nominal"},
  "shape":{"field":"s","type":"nominal","scale":{"domain":[0,1,2,3],"range":["circle","square","triangle-down","triangle-down"]},"legend":null}}},
{"data":{"values":[{}]},"mark":{"type":"rule","color":"#8b1a1a","strokeWidth":3,"strokeDash":[5,3]},"encoding":{"x":{"datum":11860,"axis":null},"y":{"datum":0,"axis":null},"y2":{"datum":1.594}}},
{"data":{"values":[{}]},"mark":{"type":"rule","color":"#8b1a1a","strokeWidth":3,"strokeDash":[14,6]},"encoding":{"x":{"datum":13835,"axis":null},"y":{"datum":0,"axis":null},"y2":{"datum":1.594}}},
{"data":{"values":[{}]},"mark":{"type":"text","text":"S","font":"Liberation Sans","fontWeight":"bold","fontSize":31,"align":"left","baseline":"alphabetic","color":"#000"},"encoding":{"x":{"datum":11443,"axis":null},"y":{"datum":1.668,"axis":null}}},
{"data":{"values":[{}]},"mark":{"type":"text","text":"n","font":"Liberation Sans","fontWeight":"bold","fontSize":22,"align":"left","baseline":"alphabetic","color":"#000"},"encoding":{"x":{"datum":12028,"axis":null},"y":{"datum":1.639,"axis":null}}},
{"data":{"values":[{}]},"mark":{"type":"text","text":"S","font":"Liberation Sans","fontWeight":"bold","fontSize":31,"align":"left","baseline":"alphabetic","color":"#000"},"encoding":{"x":{"datum":13312,"axis":null},"y":{"datum":1.668,"axis":null}}},
{"data":{"values":[{}]},"mark":{"type":"text","text":"n","font":"Liberation Sans","fontWeight":"bold","fontSize":22,"align":"left","baseline":"alphabetic","color":"#000"},"encoding":{"x":{"datum":13881,"axis":null},"y":{"datum":1.639,"axis":null}}},
{"data":{"values":[{}]},"mark":{"type":"text","text":"+1943 keV","font":"Liberation Sans","fontWeight":"bold","fontSize":28.5,"align":"left","baseline":"alphabetic","color":"#000"},"encoding":{"x":{"datum":14222,"axis":null},"y":{"datum":1.668,"axis":null}}},
{"data":{"values":[{}]},"mark":{"type":"text","text":"(a)","font":"Liberation Serif","fontWeight":"bold","fontSize":25,"align":"left","baseline":"alphabetic","color":"#000"},"encoding":{"x":{"datum":7552,"axis":null},"y":{"datum":1.388,"axis":null}}}
]
},
{
"width":325,"height":335,
"data":{"name":"b"},
"transform":[{"lookup":"s","from":{"data":{"name":"labAB"},"key":"s","fields":["J"]}}],
"resolve":{"axis":{"x":"independent","y":"independent"}},
"layer":[
{"mark":{"type":"errorbar","clip":true,"thickness":1.2},
 "encoding":{"x":{"field":"E","type":"quantitative","axis":null},"y":{"field":"P","type":"quantitative","axis":null},"yError":{"field":"d"},"color":{"field":"J","type":"nominal"}}},
{"mark":{"type":"line","clip":true,"strokeWidth":1.3},
 "encoding":{
  "x":{"field":"E","type":"quantitative","scale":{"domain":[7200,16000],"nice":false,"zero":false},
   "axis":{"orient":"bottom","title":"Excitation Energy (keV)","titleFont":"Liberation Serif","titleFontWeight":"bold","titleFontSize":27,"titleColor":"#000","titleAnchor":"end","titlePadding":-6,"values":[8000,10000,12000,14000,16000],"format":"d","labelFont":"Liberation Serif","labelFontWeight":"bold","labelFontSize":22,"labelColor":"#000","labelPadding":17,"labelFlush":false,"labelOverlap":false,"labelBound":false,"domain":false,"grid":false,"tickColor":"#000","tickWidth":1,"tickSize":-10}},
  "y":{"field":"P","type":"quantitative","scale":{"domain":[0,1.5],"nice":false,"zero":false},
   "axis":{"orient":"left","title":"Probability (normalized)","titleFont":"Liberation Serif","titleFontWeight":"bold","titleFontSize":27,"titleColor":"#000","titleAnchor":"end","titlePadding":5,"values":[0,0.5,1,1.5],"format":"~g","labelFont":"Liberation Serif","labelFontWeight":"bold","labelFontSize":22,"labelColor":"#000","labelPadding":13,"labelOverlap":false,"labelBound":false,"labelFlush":false,"domain":false,"grid":false,"tickColor":"#000","tickWidth":1,"tickSize":-10}},
  "color":{"field":"J","type":"nominal","scale":{"domain":["J=2⁺(→0⁺)\u00a0\u00a0\u00a0\u00a0\u00a0\u00a0\u00a0","J=4⁺(→2⁺)\u00a0\u00a0\u00a0\u00a0\u00a0\u00a0\u00a0","J=6⁺(→5⁻)\u00a0\u00a0\u00a0\u00a0\u00a0\u00a0\u00a0","J=8⁺(→6⁺)\u00a0\u00a0\u00a0\u00a0\u00a0\u00a0\u00a0"],"range":["#000000","#ff0000","#00ee00","#0000ff"]},
   "legend":{"title":null,"orient":"top-right","offset":0,"padding":3,"rowPadding":3,"strokeColor":"#000","symbolType":"M-0.37,0H2.15M0.89,-0.63V0.63","symbolSize":361,"symbolStrokeWidth":1.5,"labelFont":"Liberation Serif","labelFontWeight":"bold","labelFontSize":19,"labelColor":"#000","labelOffset":25,"labelLimit":0,"cornerRadius":0}}}},
{"mark":{"type":"point","clip":true,"filled":false,"size":34,"strokeWidth":1,"opacity":0.8},
 "encoding":{
  "x":{"field":"E","type":"quantitative","axis":{"orient":"bottom","title":null,"values":[7500,8500,9000,9500,10500,11000,11500,12500,13000,13500,14500,15000,15500],"labels":false,"domain":false,"grid":false,"tickColor":"#000","tickWidth":1,"tickSize":-5}},
  "y":{"field":"P","type":"quantitative","axis":{"orient":"left","title":null,"values":[0.1,0.2,0.3,0.4,0.6,0.7,0.8,0.9,1.1,1.2,1.3,1.4],"labels":false,"domain":false,"grid":false,"tickColor":"#000","tickWidth":1,"tickSize":-5}},
  "color":{"field":"J","type":"nominal"},
  "shape":{"field":"s","type":"nominal","scale":{"domain":[0,1,2,3],"range":["circle","square","triangle-down","triangle-down"]},"legend":null}}},
{"data":{"values":[{}]},"mark":{"type":"rule","color":"#8b1a1a","strokeWidth":3,"strokeDash":[5,3]},"encoding":{"x":{"datum":11873,"axis":null},"y":{"datum":0,"axis":null},"y2":{"datum":1.594}}},
{"data":{"values":[{}]},"mark":{"type":"rule","color":"#8b1a1a","strokeWidth":3,"strokeDash":[14,6]},"encoding":{"x":{"datum":13850,"axis":null},"y":{"datum":0,"axis":null},"y2":{"datum":1.594}}},
{"data":{"values":[{}]},"mark":{"type":"text","text":"S","font":"Liberation Sans","fontWeight":"bold","fontSize":31,"align":"left","baseline":"alphabetic","color":"#000"},"encoding":{"x":{"datum":11479,"axis":null},"y":{"datum":1.668,"axis":null}}},
{"data":{"values":[{}]},"mark":{"type":"text","text":"n","font":"Liberation Sans","fontWeight":"bold","fontSize":22,"align":"left","baseline":"alphabetic","color":"#000"},"encoding":{"x":{"datum":12074,"axis":null},"y":{"datum":1.639,"axis":null}}},
{"data":{"values":[{}]},"mark":{"type":"text","text":"S","font":"Liberation Sans","fontWeight":"bold","fontSize":31,"align":"left","baseline":"alphabetic","color":"#000"},"encoding":{"x":{"datum":13293,"axis":null},"y":{"datum":1.668,"axis":null}}},
{"data":{"values":[{}]},"mark":{"type":"text","text":"n","font":"Liberation Sans","fontWeight":"bold","fontSize":22,"align":"left","baseline":"alphabetic","color":"#000"},"encoding":{"x":{"datum":13916,"axis":null},"y":{"datum":1.639,"axis":null}}},
{"data":{"values":[{}]},"mark":{"type":"text","text":"+1943 keV","font":"Liberation Sans","fontWeight":"bold","fontSize":28.5,"align":"left","baseline":"alphabetic","color":"#000"},"encoding":{"x":{"datum":14268,"axis":null},"y":{"datum":1.668,"axis":null}}},
{"data":{"values":[{}]},"mark":{"type":"text","text":"(b)","font":"Liberation Serif","fontWeight":"bold","fontSize":25,"align":"left","baseline":"alphabetic","color":"#000"},"encoding":{"x":{"datum":7687,"axis":null},"y":{"datum":1.388,"axis":null}}}
]
},
{
"width":325,"height":335,
"data":{"name":"c"},
"transform":[{"lookup":"s","from":{"data":{"name":"labC"},"key":"s","fields":["J"]}}],
"resolve":{"axis":{"x":"independent","y":"independent"}},
"layer":[
{"mark":{"type":"errorbar","clip":true,"thickness":1.2},
 "encoding":{"x":{"field":"E","type":"quantitative","axis":null},"y":{"field":"P","type":"quantitative","axis":null},"yError":{"field":"d"},"color":{"field":"J","type":"nominal"}}},
{"mark":{"type":"line","clip":true,"strokeWidth":1.3},
 "encoding":{
  "x":{"field":"E","type":"quantitative","scale":{"domain":[11200,20000],"nice":false,"zero":false},
   "axis":{"orient":"bottom","title":"Excitation Energy (keV)","titleFont":"Liberation Serif","titleFontWeight":"bold","titleFontSize":27,"titleColor":"#000","titleAnchor":"end","titlePadding":-6,"values":[12000,14000,16000,18000,20000],"format":"d","labelFont":"Liberation Serif","labelFontWeight":"bold","labelFontSize":22,"labelColor":"#000","labelPadding":17,"labelFlush":false,"labelOverlap":false,"labelBound":false,"domain":false,"grid":false,"tickColor":"#000","tickWidth":1,"tickSize":-10}},
  "y":{"field":"P","type":"quantitative","scale":{"domain":[0,1.5],"nice":false,"zero":false},
   "axis":{"orient":"left","title":"Probability (normalized)","titleFont":"Liberation Serif","titleFontWeight":"bold","titleFontSize":27,"titleColor":"#000","titleAnchor":"end","titlePadding":5,"values":[0,0.5,1,1.5],"format":"~g","labelFont":"Liberation Serif","labelFontWeight":"bold","labelFontSize":22,"labelColor":"#000","labelPadding":13,"labelOverlap":false,"labelBound":false,"labelFlush":false,"domain":false,"grid":false,"tickColor":"#000","tickWidth":1,"tickSize":-10}},
  "color":{"field":"J","type":"nominal","scale":{"domain":["J=3/2⁻(→3/2⁻)","J=5/2⁻(→1/2⁻)","J=13/2⁺(→9/2⁺)","J=13/2⁻(→13/2⁺)"],"range":["#000000","#ff0000","#00ee00","#0000ff"]},
   "legend":{"title":null,"orient":"top-right","offset":0,"padding":3,"rowPadding":4,"strokeColor":"#000","symbolType":"M-0.26,0H2.05M0.89,-0.58V0.58","symbolSize":361,"symbolStrokeWidth":1.5,"labelFont":"Liberation Serif","labelFontWeight":"bold","labelFontSize":14,"labelColor":"#000","labelOffset":18,"labelLimit":0,"cornerRadius":0}}}},
{"mark":{"type":"point","clip":true,"filled":false,"size":34,"strokeWidth":1,"opacity":0.8},
 "encoding":{
  "x":{"field":"E","type":"quantitative","axis":{"orient":"bottom","title":null,"values":[11500,12500,13000,13500,14500,15000,15500,16500,17000,17500,18500,19000,19500],"labels":false,"domain":false,"grid":false,"tickColor":"#000","tickWidth":1,"tickSize":-5}},
  "y":{"field":"P","type":"quantitative","axis":{"orient":"left","title":null,"values":[0.1,0.2,0.3,0.4,0.6,0.7,0.8,0.9,1.1,1.2,1.3,1.4],"labels":false,"domain":false,"grid":false,"tickColor":"#000","tickWidth":1,"tickSize":-5}},
  "color":{"field":"J","type":"nominal"},
  "shape":{"field":"s","type":"nominal","scale":{"domain":[0,1,2,3],"range":["circle","square","triangle-down","triangle-down"]},"legend":null}}},
{"data":{"values":[{}]},"mark":{"type":"rule","color":"#8b1a1a","strokeWidth":3,"strokeDash":[5,3]},"encoding":{"x":{"datum":12000,"axis":null},"y":{"datum":0,"axis":null},"y2":{"datum":1.267}}},
{"data":{"values":[{}]},"mark":{"type":"rule","color":"#8b1a1a","strokeWidth":3,"strokeDash":[5,3]},"encoding":{"x":{"datum":12000,"axis":null},"y":{"datum":1.437,"axis":null},"y2":{"datum":1.594}}},
{"data":{"values":[{}]},"mark":{"type":"text","text":"S","font":"Liberation Sans","fontWeight":"bold","fontSize":31,"align":"left","baseline":"alphabetic","color":"#000"},"encoding":{"x":{"datum":11681,"axis":null},"y":{"datum":1.668,"axis":null}}},
{"data":{"values":[{}]},"mark":{"type":"text","text":"n","font":"Liberation Sans","fontWeight":"bold","fontSize":22,"align":"left","baseline":"alphabetic","color":"#000"},"encoding":{"x":{"datum":12286,"axis":null},"y":{"datum":1.639,"axis":null}}},
{"data":{"values":[{}]},"mark":{"type":"text","text":"(c)","font":"Liberation Serif","fontWeight":"bold","fontSize":25,"align":"left","baseline":"alphabetic","color":"#000"},"encoding":{"x":{"datum":11770,"axis":null},"y":{"datum":1.343,"axis":null}}}
]
}
],
"spacing":102,
"bounds":"flush",
"resolve":{"scale":{"color":"independent","shape":"independent","x":"independent","y":"independent"},"legend":{"color":"independent"}}
}
